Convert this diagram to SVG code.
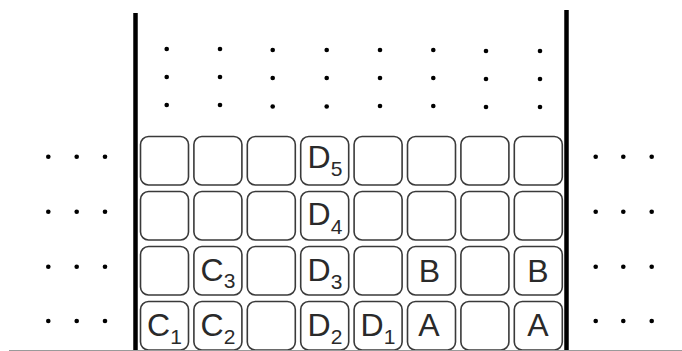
<svg xmlns="http://www.w3.org/2000/svg" width="682" height="351" viewBox="0 0 682 351">
<style>
.cell{fill:#fff;stroke:#3a3a3a;stroke-width:1.6}
.wall{stroke:#000;stroke-width:4.5}
.dot{fill:#000}
.lbl{font-family:"Liberation Sans",Arial,sans-serif;font-size:32px;fill:#2a2a2a;text-anchor:middle}
.sub{font-size:21px}
</style>
<defs>
<rect id="c" class="cell" width="48" height="48.5" rx="8" ry="8"/>
</defs>
<rect width="682" height="351" fill="#fff"/>
<g id="cells">
<g id="r1">
<use href="#c" x="140.5" y="136.5"/><use href="#c" x="193.9" y="136.5"/><use href="#c" x="247.3" y="136.5"/><use href="#c" x="300.7" y="136.5"/>
<use href="#c" x="354.1" y="136.5"/><use href="#c" x="407.5" y="136.5"/><use href="#c" x="460.9" y="136.5"/><use href="#c" x="514.3" y="136.5"/>
</g>
<g id="r2">
<use href="#c" x="140.5" y="191.5"/><use href="#c" x="193.9" y="191.5"/><use href="#c" x="247.3" y="191.5"/><use href="#c" x="300.7" y="191.5"/>
<use href="#c" x="354.1" y="191.5"/><use href="#c" x="407.5" y="191.5"/><use href="#c" x="460.9" y="191.5"/><use href="#c" x="514.3" y="191.5"/>
</g>
<g id="r3">
<use href="#c" x="140.5" y="246.5"/><use href="#c" x="193.9" y="246.5"/><use href="#c" x="247.3" y="246.5"/><use href="#c" x="300.7" y="246.5"/>
<use href="#c" x="354.1" y="246.5"/><use href="#c" x="407.5" y="246.5"/><use href="#c" x="460.9" y="246.5"/><use href="#c" x="514.3" y="246.5"/>
</g>
<g id="r4">
<use href="#c" x="140.5" y="301.5"/><use href="#c" x="193.9" y="301.5"/><use href="#c" x="247.3" y="301.5"/><use href="#c" x="300.7" y="301.5"/>
<use href="#c" x="354.1" y="301.5"/><use href="#c" x="407.5" y="301.5"/><use href="#c" x="460.9" y="301.5"/><use href="#c" x="514.3" y="301.5"/>
</g>
</g>
<g id="labels">
<text id="D5" class="lbl" x="325" y="168">D<tspan class="sub" dy="8">5</tspan></text>
<text id="D4" class="lbl" x="325" y="225">D<tspan class="sub" dy="9">4</tspan></text>
<text id="C3" class="lbl" x="218" y="280.5">C<tspan class="sub" dy="7.5">3</tspan></text>
<text id="D3" class="lbl" x="325" y="281">D<tspan class="sub" dy="7.5">3</tspan></text>
<text id="B1" class="lbl" x="429.5" y="281.5">B</text>
<text id="B2" class="lbl" x="538" y="281.5">B</text>
<text id="C1" class="lbl" x="164.5" y="336">C<tspan class="sub" dy="7.5">1</tspan></text>
<text id="C2" class="lbl" x="218" y="336">C<tspan class="sub" dy="7.5">2</tspan></text>
<text id="D2" class="lbl" x="325" y="336">D<tspan class="sub" dy="7.5">2</tspan></text>
<text id="D1" class="lbl" x="378" y="336">D<tspan class="sub" dy="7.5">1</tspan></text>
<text id="A1" class="lbl" x="429" y="336">A</text>
<text id="A2" class="lbl" x="538" y="336">A</text>
</g>
<g id="walls">
<line class="wall" x1="135.5" y1="13" x2="135.5" y2="351"/>
<line class="wall" x1="566.5" y1="10" x2="566.5" y2="351"/>
<line x1="9" y1="350.5" x2="682" y2="350.5" stroke="#9a9a9a" stroke-width="1"/>
</g>
<g id="top-dots">
<circle class="dot" cx="166.7" cy="49" r="2.3"/><circle class="dot" cx="166.7" cy="77" r="2.3"/><circle class="dot" cx="166.7" cy="105" r="2.3"/>
<circle class="dot" cx="220" cy="49" r="2.3"/><circle class="dot" cx="220" cy="77" r="2.3"/><circle class="dot" cx="220" cy="105" r="2.3"/>
<circle class="dot" cx="272.7" cy="50" r="2.3"/><circle class="dot" cx="272.7" cy="78" r="2.3"/><circle class="dot" cx="272.7" cy="106.5" r="2.3"/>
<circle class="dot" cx="326.7" cy="50" r="2.3"/><circle class="dot" cx="326.7" cy="78" r="2.3"/><circle class="dot" cx="326.7" cy="106.5" r="2.3"/>
<circle class="dot" cx="380" cy="50" r="2.3"/><circle class="dot" cx="380" cy="78" r="2.3"/><circle class="dot" cx="380" cy="106" r="2.3"/>
<circle class="dot" cx="433.3" cy="50" r="2.3"/><circle class="dot" cx="433.3" cy="78" r="2.3"/><circle class="dot" cx="433.3" cy="106" r="2.3"/>
<circle class="dot" cx="486" cy="51" r="2.3"/><circle class="dot" cx="486" cy="79" r="2.3"/><circle class="dot" cx="486" cy="107" r="2.3"/>
<circle class="dot" cx="540" cy="51" r="2.3"/><circle class="dot" cx="540" cy="79" r="2.3"/><circle class="dot" cx="540" cy="107" r="2.3"/>
</g>
<g id="left-dots">
<circle class="dot" cx="48.3" cy="156.7" r="2.3"/><circle class="dot" cx="76.7" cy="156.7" r="2.3"/><circle class="dot" cx="105" cy="156.7" r="2.3"/>
<circle class="dot" cx="48.3" cy="211.7" r="2.3"/><circle class="dot" cx="76.7" cy="211.7" r="2.3"/><circle class="dot" cx="105" cy="211.7" r="2.3"/>
<circle class="dot" cx="48.3" cy="266.7" r="2.3"/><circle class="dot" cx="76.7" cy="266.7" r="2.3"/><circle class="dot" cx="105" cy="266.7" r="2.3"/>
<circle class="dot" cx="48.3" cy="321" r="2.3"/><circle class="dot" cx="76.7" cy="321" r="2.3"/><circle class="dot" cx="105" cy="321" r="2.3"/>
</g>
<g id="right-dots">
<circle class="dot" cx="595.7" cy="156.7" r="2.3"/><circle class="dot" cx="623.3" cy="156.7" r="2.3"/><circle class="dot" cx="651.7" cy="156.7" r="2.3"/>
<circle class="dot" cx="595.7" cy="211.7" r="2.3"/><circle class="dot" cx="623.3" cy="211.7" r="2.3"/><circle class="dot" cx="651.7" cy="211.7" r="2.3"/>
<circle class="dot" cx="595.7" cy="266.7" r="2.3"/><circle class="dot" cx="623.3" cy="266.7" r="2.3"/><circle class="dot" cx="651.7" cy="266.7" r="2.3"/>
<circle class="dot" cx="595.7" cy="321" r="2.3"/><circle class="dot" cx="623.3" cy="321" r="2.3"/><circle class="dot" cx="651.7" cy="321" r="2.3"/>
</g>
</svg>
